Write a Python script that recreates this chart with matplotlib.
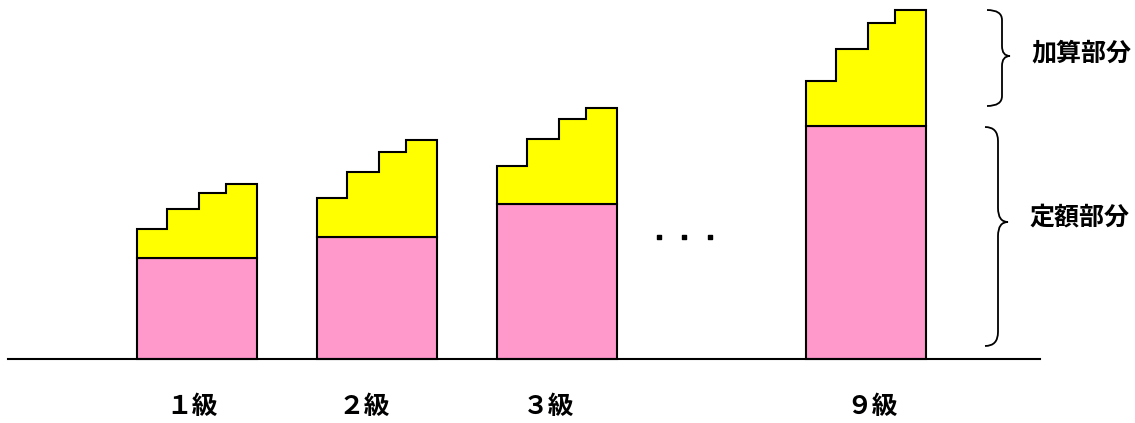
import matplotlib
matplotlib.use("Agg")
import matplotlib.pyplot as plt
from matplotlib.path import Path
from matplotlib.patches import PathPatch, Rectangle, Polygon

plt.rcParams['font.family'] = ['Noto Sans CJK JP', 'DejaVu Sans']

# ---- data ----
grades = ['１級', '２級', '３級', '９級']
fixed_part = [101, 122, 155, 233]            # 定額部分 height
step_tops = [                                 # 加算部分: top of each of the 4 steps
    [130, 150, 166, 175],
    [161, 187, 207, 219],
    [193, 220, 240, 251],
    [278, 310, 336, 349],
]
brace_labels = ['加算部分', '定額部分']

# ---- layout ----
W, H, DPI = 1135, 423, 100
fig = plt.figure(figsize=(W / DPI, H / DPI), dpi=DPI)
ax = fig.add_axes([0, 0, 1, 1])
ax.set_xlim(0, W)
ax.set_ylim(-64, 359)
ax.axis('off')

bar_left = [137, 317, 497, 806]
bar_w = 120
step_frac = [0, 0.25, 0.52, 0.74, 1.0]
label_x = [192, 364, 549, 872]
pink = '#FF99CC'
yellow = '#FFFF00'
lw = 1.5

for i, g in enumerate(grades):
    x0 = bar_left[i]
    base = fixed_part[i]
    ax.add_patch(Rectangle((x0, 0), bar_w, base, facecolor=pink,
                           edgecolor='black', lw=lw, zorder=2))
    pts = [(x0, base)]
    for k, top in enumerate(step_tops[i]):
        xa = x0 + step_frac[k] * bar_w
        xb = x0 + step_frac[k + 1] * bar_w
        pts.append((xa, top))
        pts.append((xb, top))
    pts.append((x0 + bar_w, base))
    ax.add_patch(Polygon(pts, closed=True, facecolor=yellow,
                         edgecolor='black', lw=lw, zorder=2, joinstyle='miter'))
    ax.text(label_x[i], -47, g, ha='center', va='center', fontsize=18.5,
            fontweight='bold')

# baseline
ax.plot([8, 1040], [0, 0], color='black', lw=lw, zorder=3)

# ellipsis dots
ax.scatter([659, 684, 710], [122, 122, 122], marker='s', s=8, color='black',
           zorder=3)


def brace(ax, x_end, x_v, x_tip, y_top, y_bot, y_tip, r=12):
    verts = [
        (x_end, y_top),
        (x_v, y_top), (x_v, y_top - r),
        (x_v, y_tip + r),
        (x_v, y_tip), (x_tip, y_tip),
        (x_v, y_tip), (x_v, y_tip - r),
        (x_v, y_bot + r),
        (x_v, y_bot), (x_end, y_bot),
    ]
    codes = [Path.MOVETO,
             Path.CURVE3, Path.CURVE3,
             Path.LINETO,
             Path.CURVE3, Path.CURVE3,
             Path.CURVE3, Path.CURVE3,
             Path.LINETO,
             Path.CURVE3, Path.CURVE3]
    ax.add_patch(PathPatch(Path(verts, codes), facecolor='none',
                           edgecolor='black', lw=1.3, zorder=3))


# upper brace (加算部分)
brace(ax, 987, 1002, 1010, 359 - 10, 359 - 106, 359 - 56, r=10)
# lower brace (定額部分)
brace(ax, 985, 998, 1008, 359 - 127, 359 - 346, 359 - 222, r=14)

ax.text(1081, 359 - 53, brace_labels[0], ha='center', va='center',
        fontsize=18, fontweight='bold')
ax.text(1079, 359 - 218, brace_labels[1], ha='center', va='center',
        fontsize=18, fontweight='bold')

fig.savefig('out.png', dpi=DPI)
